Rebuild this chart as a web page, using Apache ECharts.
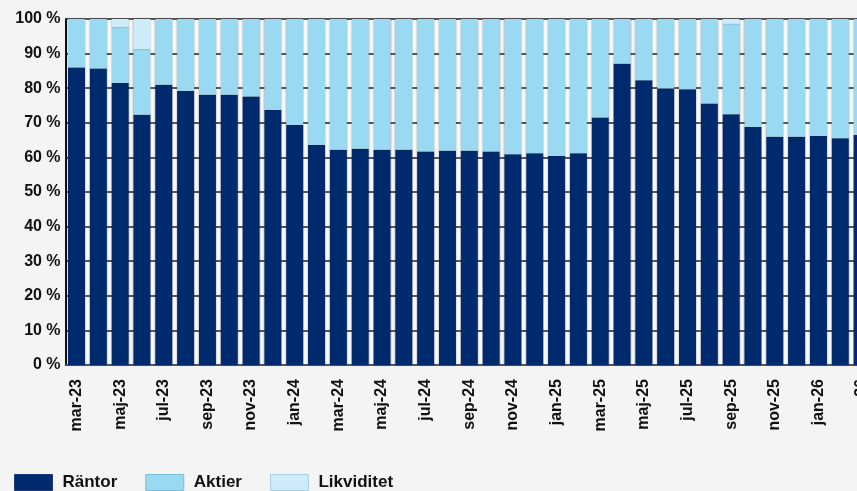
<!DOCTYPE html>
<html>
<head>
<meta charset="utf-8">
<script src="https://cdn.jsdelivr.net/npm/echarts@6/dist/echarts.min.js"></script>
<style>
html,body{margin:0;padding:0;background:#f4f4f4;overflow:hidden;width:857px;height:491px;}
#c{width:873px;height:491px;}
</style>
</head>
<body>
<div id="c"></div>
<script>
const categories = ['mar-23','apr-23','maj-23','jun-23','jul-23','aug-23','sep-23','okt-23','nov-23','dec-23',
  'jan-24','feb-24','mar-24','apr-24','maj-24','jun-24','jul-24','aug-24','sep-24','okt-24','nov-24','dec-24',
  'jan-25','feb-25','mar-25','apr-25','maj-25','jun-25','jul-25','aug-25','sep-25','okt-25','nov-25','dec-25',
  'jan-26','feb-26','mar-26'];
const rantor = [86.0,85.7,81.5,72.3,81.0,79.2,78.1,78.1,77.6,73.7,
  69.4,63.6,62.2,62.5,62.2,62.2,61.7,61.9,61.9,61.7,60.9,61.2,
  60.4,61.2,71.5,87.1,82.3,79.9,79.7,75.6,72.5,68.8,66.0,66.0,
  66.2,65.5,66.5];
const aktier = [14.0,14.3,16.2,19.0,19.0,20.8,21.9,21.9,22.4,26.3,
  30.6,36.4,37.8,37.5,37.8,37.8,38.3,38.1,38.1,38.3,39.1,38.8,
  39.6,38.8,28.5,12.9,17.7,20.1,20.3,24.4,26.1,31.2,34.0,34.0,
  33.8,34.5,33.5];
const likviditet = [0,0,2.3,8.7,0,0,0,0,0,0,
  0,0,0,0,0,0,0,0,0,0,0,0,
  0,0,0,0,0,0,0,0,1.4,0,0,0,
  0,0,0];
const yTicks = [0,10,20,30,40,50,60,70,80,90,100];

const FONT = "'Liberation Sans', Arial, sans-serif";
const chart = echarts.init(document.getElementById('c'), null, {renderer:'canvas'});
const shadow = {shadowColor:'rgba(0,0,0,0.35)', shadowBlur:2, shadowOffsetX:0};
chart.setOption({
  backgroundColor:'#f4f4f4',
  animation:false,
  grid:{left:65.6, right:0, top:19, bottom:126, show:true, backgroundColor:'#fbfbfb', borderWidth:0},
  legend:{
    left:14, top:474, padding:0, itemWidth:38, itemHeight:16, itemGap:28,
    icon:'rect',
    textStyle:{fontFamily:FONT, fontWeight:'bold', fontSize:17, color:'#111', padding:[0,0,0,5]},
    data:[
      {name:'Räntor', itemStyle:{borderColor:'#1d3d7a', borderWidth:1}},
      {name:'Aktier', itemStyle:{borderColor:'#7dbcd8', borderWidth:1}},
      {name:'Likviditet', itemStyle:{borderColor:'#a9cfe0', borderWidth:1}}
    ]
  },
  xAxis:{
    type:'category', data:categories,
    axisLine:{show:true, lineStyle:{color:'#555', width:2}},
    axisTick:{show:false},
    axisLabel:{rotate:90, interval:1, margin:14, fontFamily:FONT, fontWeight:'bold', fontSize:16, color:'#111'}
  },
  yAxis:{
    type:'value', min:0, max:100, interval:10,
    axisLine:{show:true, lineStyle:{color:'#111', width:2}},
    axisTick:{show:false},
    splitLine:{show:true, lineStyle:{color:'#222', width:1.5}},
    axisLabel:{margin:5, fontFamily:FONT, fontWeight:'bold', fontSize:16, color:'#111',
      formatter:function(v){return yTicks.indexOf(v)>=0 ? v+' %' : '';}}
  },
  series:[
    {name:'Räntor', type:'bar', stack:'a', data:rantor, barWidth:17,
      itemStyle:Object.assign({color:'#002a6e'}, shadow)},
    {name:'Aktier', type:'bar', stack:'a', data:aktier, barWidth:17,
      itemStyle:Object.assign({color:'#99d9f1'}, shadow)},
    {name:'Likviditet', type:'bar', stack:'a', data:likviditet, barWidth:17,
      itemStyle:Object.assign({color:'#cdebf8'}, shadow)}
  ]
});
</script>
</body>
</html>
